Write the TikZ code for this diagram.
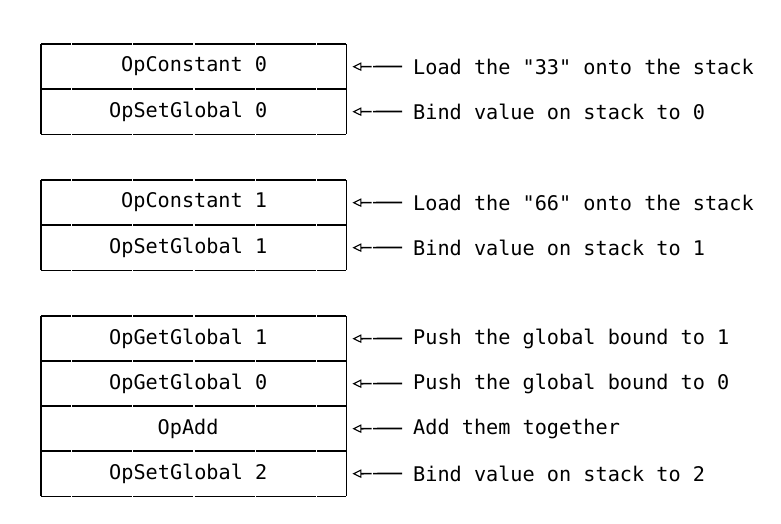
\documentclass[tikz,border=0pt]{standalone}
\usepackage{fontspec}
\setmonofont{DejaVu Sans Mono}
\usetikzlibrary{arrows.meta}
\begin{document}
\begin{tikzpicture}[x=1pt,y=-1pt,
  every node/.style={font=\ttfamily\fontsize{20.2}{24}\selectfont},
  rowbox/.style={minimum width=305pt,minimum height=45pt,inner sep=0pt,anchor=north west},
  txt/.style={anchor=west,inner sep=0pt},
  lab/.style={anchor=west,inner xsep=11pt,inner ysep=0pt},
  hline/.style={line width=1.8pt,dash pattern=on 60pt off 1.2pt,dash phase=30pt},
  vline/.style={line width=1.8pt},
  arr/.style={line width=1.7pt,-{Triangle[open,length=9pt,width=8.5pt,line width=1.1pt]},
    shorten >=6pt,dash pattern=on 29pt off 1.5pt on 200pt}
]
\useasboundingbox (0,0) rectangle (781,523);
% cells
\node[rowbox] (r1) at (41,44) {};
\node[rowbox] (r2) at (41,89) {};
\node[rowbox] (r3) at (41,180) {};
\node[rowbox] (r4) at (41,225) {};
\node[rowbox] (r5) at (41,316) {};
\node[rowbox] (r6) at (41,361) {};
\node[rowbox] (r7) at (41,406) {};
\node[rowbox] (r8) at (41,451) {};
% cell texts
\node[txt] (t1) at (121,66.5) {OpConstant 0};
\node[txt] (t2) at (109,111.5) {OpSetGlobal 0};
\node[txt] (t3) at (121,202.5) {OpConstant 1};
\node[txt] (t4) at (109,247.5) {OpSetGlobal 1};
\node[txt] (t5) at (109,338.5) {OpGetGlobal 1};
\node[txt] (t6) at (109,383.5) {OpGetGlobal 0};
\node[txt] (t7) at (157.5,428.5) {OpAdd};
\node[txt] (t8) at (109,473.5) {OpSetGlobal 2};
% horizontal lines
\foreach \r in {r1,r2,r3,r4,r5,r6,r7,r8}{
  \draw[hline] (\r.north west) -- (\r.north east);
}
\foreach \r in {r2,r4,r8}{
  \draw[hline] (\r.south west) -- (\r.south east);
}
% vertical lines
\draw[vline] (r1.north west) -- (r2.south west);
\draw[vline] (r1.north east) -- (r2.south east);
\draw[vline] (r3.north west) -- (r4.south west);
\draw[vline] (r3.north east) -- (r4.south east);
\draw[vline] (r5.north west) -- (r8.south west);
\draw[vline] (r5.north east) -- (r8.south east);
% labels
\node[lab] (l1) at (402,66.5) {Load the "33" onto the stack};
\node[lab] (l2) at (402,111.5) {Bind value on stack to 0};
\node[lab] (l3) at (402,202.5) {Load the "66" onto the stack};
\node[lab] (l4) at (402,247.5) {Bind value on stack to 1};
\node[lab] (l5) at (402,338.5) {Push the global bound to 1};
\node[lab] (l6) at (402,383.5) {Push the global bound to 0};
\node[lab] (l7) at (402,428.5) {Add them together};
\node[lab] (l8) at (402,473.5) {Bind value on stack to 2};
\foreach \i in {1,...,8}{
  \draw[arr] (l\i.west) -- (r\i.east);
}
\end{tikzpicture}
\end{document}
